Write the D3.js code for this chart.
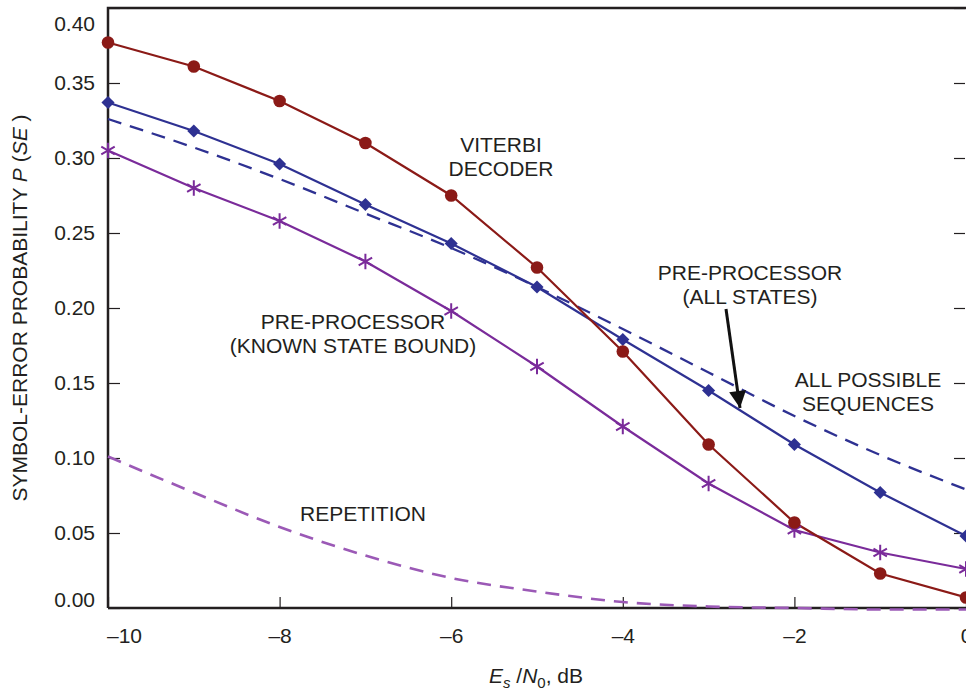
<!doctype html>
<html>
<head>
<meta charset="utf-8">
<title>Symbol-error probability</title>
<script src="https://cdn.jsdelivr.net/npm/d3@7"></script>
<style>
  body { margin: 0; background: #fff; }
  svg { display: block; font-family: "Liberation Sans", Arial, sans-serif; }
  .lbl { font-size: 21px; fill: #231f20; }
</style>
</head>
<body>
<div id="chart"></div>
<script>
// x positions (Es/N0, dB)
var snr = [-10, -9, -8, -7, -6, -5, -4, -3, -2, -1, 0];

// series
var viterbi      = [0.377, 0.361, 0.338, 0.310, 0.275, 0.227, 0.171, 0.109, 0.057, 0.023, 0.007];
var preAllStates = [0.337, 0.318, 0.296, 0.269, 0.243, 0.214, 0.179, 0.145, 0.109, 0.077, 0.048];
var allSequences = [0.326, 0.307, 0.286, 0.263, 0.240, 0.214, 0.186, 0.157, 0.128, 0.102, 0.079];
var knownState   = [0.305, 0.280, 0.258, 0.231, 0.198, 0.161, 0.121, 0.083, 0.052, 0.037, 0.026];
var repetition   = [0.101, 0.077, 0.054, 0.035, 0.020, 0.011, 0.004, 0.001, 0.000, -0.001, -0.001];

var xTicks = [-10, -8, -6, -4, -2, 0];
var yTicks = [0, 0.05, 0.10, 0.15, 0.20, 0.25, 0.30, 0.35, 0.40];

var W = 966, H = 692;
var mLeft = 108, mRight = 966, mTop = 8, mBottom = 608;

var svg = d3.select('#chart').append('svg')
    .attr('width', W).attr('height', H);

var x = d3.scaleLinear().domain([-10, 0]).range([mLeft, 966]);
var y = d3.scaleLinear().domain([0, 0.40]).range([mBottom, mTop]);

var red = '#8b1a17', blue = '#2e3192', purple = '#7a2b9a', lilac = '#9b59b6', ink = '#231f20';

// axes with inward ticks
var xAxis = d3.axisBottom(x).tickValues(xTicks).tickSizeInner(-11).tickSizeOuter(0)
    .tickPadding(20).tickFormat(function(d){ return d < 0 ? '\u2013' + Math.abs(d) : d; });
var yAxis = d3.axisLeft(y).tickValues(yTicks).tickSizeInner(-12).tickSizeOuter(0)
    .tickPadding(13).tickFormat(d3.format('.2f'));
var yAxisR = d3.axisRight(y).tickValues(yTicks).tickSizeInner(-11).tickSizeOuter(0).tickFormat('');

var gx = svg.append('g').attr('transform', 'translate(0,' + mBottom + ')').call(xAxis);
var gy = svg.append('g').attr('transform', 'translate(' + mLeft + ',0)').call(yAxis);
svg.append('g').attr('transform', 'translate(' + (mRight - 1) + ',0)').call(yAxisR);
svg.selectAll('.domain').remove();
svg.selectAll('.tick line').attr('stroke', ink).attr('stroke-width', 1.2);
svg.selectAll('.tick text').attr('fill', ink).style('font-size', '21px')
    .style('font-family', '"Liberation Sans", Arial, sans-serif');

// end labels nudged clear of the corners, as in the original
gy.selectAll('.tick text').filter(function(d){ return d === 0.40; }).attr('dy', '1.05em');
gy.selectAll('.tick text').filter(function(d){ return d === 0; }).attr('dy', '-0.05em');
gx.selectAll('.tick text').filter(function(d){ return d === -10; }).attr('dx', 16);

// frame
svg.append('path')
    .attr('d', 'M' + mLeft + ',' + mBottom + 'V' + mTop + 'H' + (W + 2))
    .attr('fill', 'none').attr('stroke', ink).attr('stroke-width', 2.5);
svg.append('line')
    .attr('x1', mLeft).attr('x2', W).attr('y1', mBottom).attr('y2', mBottom)
    .attr('stroke', ink).attr('stroke-width', 2.5);

var line = d3.line().x(function(d, i){ return x(snr[i]); }).y(function(d){ return y(d); });
var curve = d3.line().x(function(d, i){ return x(snr[i]); }).y(function(d){ return y(d); })
    .curve(d3.curveMonotoneX);

var plot = svg.append('g');

plot.append('path').datum(repetition).attr('d', curve)
    .attr('fill', 'none').attr('stroke', lilac).attr('stroke-width', 2.6)
    .attr('stroke-dasharray', '14,9');
plot.append('path').datum(allSequences).attr('d', curve)
    .attr('fill', 'none').attr('stroke', blue).attr('stroke-width', 2.3)
    .attr('stroke-dasharray', '14,9');
plot.append('path').datum(knownState).attr('d', line)
    .attr('fill', 'none').attr('stroke', purple).attr('stroke-width', 2.2);
plot.append('path').datum(preAllStates).attr('d', line)
    .attr('fill', 'none').attr('stroke', blue).attr('stroke-width', 2.2);
plot.append('path').datum(viterbi).attr('d', line)
    .attr('fill', 'none').attr('stroke', red).attr('stroke-width', 2.2);

// markers
plot.selectAll('.star').data(knownState).enter().append('path')
    .attr('transform', function(d, i){ return 'translate(' + x(snr[i]) + ',' + y(d) + ')'; })
    .attr('d', d3.symbol(d3.symbolAsterisk, 170))
    .attr('fill', 'none').attr('stroke', purple).attr('stroke-width', 2);
plot.selectAll('.dia').data(preAllStates).enter().append('path')
    .attr('transform', function(d, i){ return 'translate(' + x(snr[i]) + ',' + y(d) + ')'; })
    .attr('d', d3.symbol(d3.symbolDiamond2, 110))
    .attr('fill', blue);
plot.selectAll('.dot').data(viterbi).enter().append('circle')
    .attr('cx', function(d, i){ return x(snr[i]); })
    .attr('cy', function(d){ return y(d); })
    .attr('r', 6.3).attr('fill', red);

// annotations
function label(lines, cx, cy) {
  var t = svg.append('text').attr('class', 'lbl').attr('text-anchor', 'middle');
  lines.forEach(function(s, i){
    t.append('tspan').attr('x', cx).attr('y', cy + i * 24).text(s);
  });
}
label(['VITERBI', 'DECODER'], 501, 152);
label(['PRE-PROCESSOR', '(ALL STATES)'], 750, 280);
label(['ALL POSSIBLE', 'SEQUENCES'], 868, 387);
label(['PRE-PROCESSOR', '(KNOWN STATE BOUND)'], 353, 329);
label(['REPETITION'], 363, 521);

// arrow to the pre-processor (all states) curve
svg.append('defs').append('marker')
    .attr('id', 'head').attr('viewBox', '0 0 10 10').attr('refX', 10).attr('refY', 5)
    .attr('markerWidth', 22).attr('markerHeight', 17).attr('orient', 'auto')
    .attr('markerUnits', 'userSpaceOnUse')
  .append('path').attr('d', 'M0,0L10,5L0,10Z').attr('fill', '#111');
svg.append('line')
    .attr('x1', 726).attr('y1', 309).attr('x2', 740).attr('y2', 408)
    .attr('stroke', '#111').attr('stroke-width', 3)
    .attr('marker-end', 'url(#head)');

// axis titles
var yl = svg.append('text').attr('class', 'lbl')
    .attr('transform', 'translate(27,308) rotate(-90)').attr('text-anchor', 'middle');
yl.append('tspan').text('SYMBOL-ERROR PROBABILITY ');
yl.append('tspan').attr('font-style', 'italic').text('P');
yl.append('tspan').text(' (');
yl.append('tspan').attr('font-style', 'italic').text('SE');
yl.append('tspan').text(' )');

var xl = svg.append('text').attr('class', 'lbl')
    .attr('x', 536).attr('y', 683).attr('text-anchor', 'middle');
xl.append('tspan').attr('font-style', 'italic').text('E');
xl.append('tspan').attr('font-style', 'italic').attr('font-size', '15px').attr('dy', 5).text('s');
xl.append('tspan').attr('dy', -5).text(' /');
xl.append('tspan').attr('font-style', 'italic').text('N');
xl.append('tspan').attr('font-size', '15px').attr('dy', 5).text('0');
xl.append('tspan').attr('dy', -5).text(', dB');
</script>
</body>
</html>
